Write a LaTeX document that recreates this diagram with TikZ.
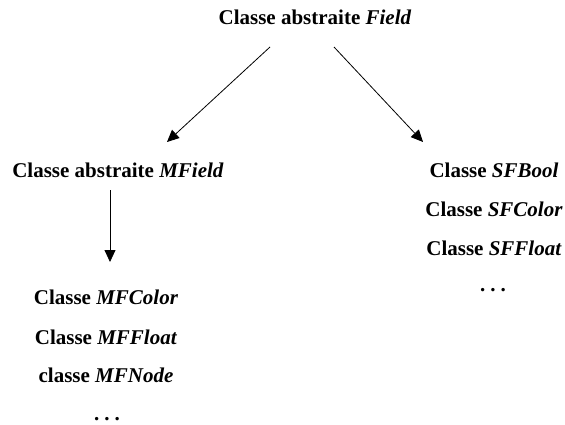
\documentclass[tikz,border=0pt]{standalone}
\usepackage{fontspec}
\setmainfont{Liberation Serif}
\usetikzlibrary{arrows.meta}
\begin{document}
\begin{tikzpicture}[x=1pt,y=-1pt,
  lbl/.style={font=\fontsize{21}{25}\selectfont\bfseries, inner sep=0pt, anchor=center},
  arr/.style={draw, line width=0.8pt, -{Triangle[length=12pt,width=11pt]}}]
  \useasboundingbox (0,0) rectangle (565,425);
  % class labels
  \node[lbl] (field) at (315,17) {Classe abstraite \textit{Field}};
  \node[lbl] (mfield) at (118,170) {Classe abstraite \textit{MField}};
  \node[lbl] (sfbool) at (494,170) {Classe \textit{SFBool}};
  \node[lbl] (sfcolor) at (494,209) {Classe \textit{SFColor}};
  \node[lbl] (sffloat) at (494,248) {Classe \textit{SFFloat}};
  \node[lbl] (sfdots) at (493,290) {.\hspace{5pt}.\hspace{5pt}.};
  \node[lbl] (mfcolor) at (106,297) {Classe \textit{MFColor}};
  \node[lbl] (mffloat) at (106,337) {Classe \textit{MFFloat}};
  \node[lbl] (mfnode) at (106,375) {classe \textit{MFNode}};
  \node[lbl] (mfdots) at (107,419) {.\hspace{5pt}.\hspace{5pt}.};
  % arrow end points
  \coordinate (fl) at (270,47);
  \coordinate (fr) at (334,47);
  \coordinate (ml) at (167,142);
  \coordinate (sr) at (423,142);
  \coordinate (mt) at (110,190);
  \coordinate (mb) at (110,262);
  \draw[arr] (fl) -- (ml);
  \draw[arr] (fr) -- (sr);
  \draw[arr] (mt) -- (mb);
\end{tikzpicture}
\end{document}
